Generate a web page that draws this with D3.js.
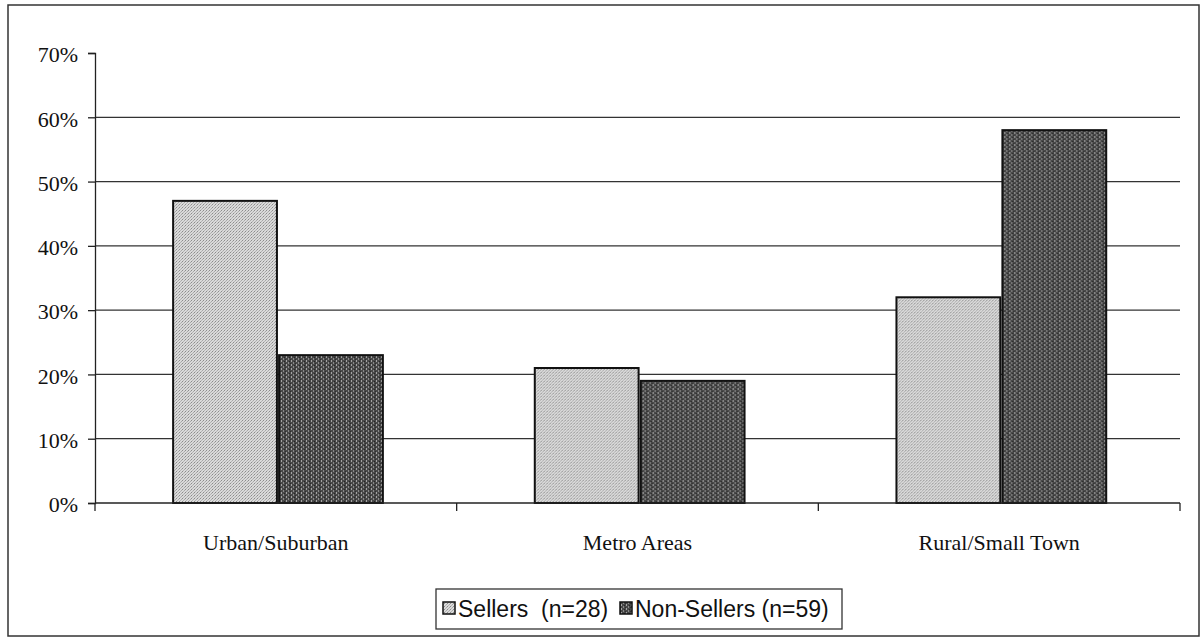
<!DOCTYPE html>
<html>
<head>
<meta charset="utf-8">
<script src="https://cdn.jsdelivr.net/npm/d3@7/dist/d3.min.js"></script>
<style>
  html, body { margin: 0; padding: 0; background: #fff; }
  svg { display: block; }
</style>
</head>
<body>
<svg id="chart" width="1201" height="639"></svg>
<script>
// Share of respondents by location type, sellers vs non-sellers
const categories = ["Urban/Suburban", "Metro Areas", "Rural/Small Town"];
const seriesNames = ["Sellers  (n=28)", "Non-Sellers (n=59)"];
const sellers = [47, 21, 32];
const nonSellers = [23, 19, 58];
const yTicks = [0, 10, 20, 30, 40, 50, 60, 70];

const svg = d3.select("#chart");
const plot = { left: 95, right: 1180, top: 53, bottom: 503 };

// Textured fills for the two series
const defs = svg.append("defs");
const light = defs.append("pattern").attr("id", "fillLight")
  .attr("patternUnits", "userSpaceOnUse").attr("width", 3).attr("height", 3);
light.append("rect").attr("width", 3).attr("height", 3).attr("fill", "#dadada");
light.append("rect").attr("x", 0).attr("y", 0).attr("width", 1).attr("height", 1).attr("fill", "#8c8c8c");
light.append("rect").attr("x", 2).attr("y", 1).attr("width", 1).attr("height", 1).attr("fill", "#a8a8a8");
light.append("rect").attr("x", 1).attr("y", 2).attr("width", 1).attr("height", 1).attr("fill", "#b4b4b4");

const dark = defs.append("pattern").attr("id", "fillDark")
  .attr("patternUnits", "userSpaceOnUse").attr("width", 5).attr("height", 4);
dark.append("rect").attr("width", 5).attr("height", 4).attr("fill", "#484848");
dark.append("rect").attr("x", 1).attr("y", 0).attr("width", 1).attr("height", 2).attr("fill", "#a4a4a4");
dark.append("rect").attr("x", 3).attr("y", 2).attr("width", 1).attr("height", 2).attr("fill", "#8a8a8a");
dark.append("rect").attr("x", 4).attr("y", 1).attr("width", 1).attr("height", 1).attr("fill", "#262626");
dark.append("rect").attr("x", 0).attr("y", 3).attr("width", 1).attr("height", 1).attr("fill", "#2e2e2e");

const fills = ["url(#fillLight)", "url(#fillDark)"];

// Outer frame
svg.append("rect")
  .attr("x", 8).attr("y", 5).attr("width", 1191).attr("height", 631)
  .attr("fill", "none").attr("stroke", "#333").attr("stroke-width", 1.5);

// Scales
const y = d3.scaleLinear().domain([0, 70]).range([plot.bottom, plot.top]);
const x0 = d3.scaleBand().domain(categories).range([plot.left, plot.right]).padding(0);
const bw = x0.bandwidth();
const x1 = d3.scaleBand().domain(seriesNames)
  .range([bw * 0.216, bw * 0.796]).paddingInner(0.02).paddingOuter(0);

// Horizontal gridlines
svg.append("g").selectAll("line")
  .data(yTicks.filter(t => t > 0 && t < 70))
  .join("line")
  .attr("x1", plot.left).attr("x2", plot.right)
  .attr("y1", d => y(d)).attr("y2", d => y(d))
  .attr("stroke", "#333").attr("stroke-width", 1.2);

// Bars
const rows = categories.map((c, i) => ({ cat: c, vals: [sellers[i], nonSellers[i]] }));
const groups = svg.append("g").selectAll("g")
  .data(rows).join("g")
  .attr("transform", d => `translate(${x0(d.cat)},0)`);
groups.selectAll("rect")
  .data(d => d.vals.map((v, k) => ({ name: seriesNames[k], v, k })))
  .join("rect")
  .attr("x", d => x1(d.name))
  .attr("width", x1.bandwidth())
  .attr("y", d => y(d.v))
  .attr("height", d => y(0) - y(d.v))
  .attr("fill", d => fills[d.k])
  .attr("stroke", "#111").attr("stroke-width", 2);

// Y axis
const yAxis = d3.axisLeft(y).tickValues(yTicks).tickSize(7).tickPadding(10)
  .tickFormat(d => d + "%");
const gy = svg.append("g").attr("transform", `translate(${plot.left},0)`).call(yAxis);
gy.select(".domain").attr("stroke", "#222").attr("stroke-width", 1.3);
gy.selectAll(".tick line").attr("stroke", "#222").attr("stroke-width", 1.3);
gy.selectAll(".tick text")
  .attr("font-family", "'Liberation Serif', 'Times New Roman', serif")
  .attr("font-size", 22).attr("fill", "#111").attr("dy", "0.4em");

// X axis with ticks at category boundaries
const gx = svg.append("g").attr("transform", `translate(0,${plot.bottom})`);
gx.append("line").attr("x1", plot.left).attr("x2", plot.right)
  .attr("stroke", "#222").attr("stroke-width", 1.3);
gx.selectAll("line.b")
  .data(categories.map(c => x0(c)).concat([plot.right]))
  .join("line").attr("class", "b")
  .attr("x1", d => d).attr("x2", d => d).attr("y1", 0).attr("y2", 8)
  .attr("stroke", "#222").attr("stroke-width", 1.3);
gx.selectAll("text")
  .data(categories).join("text")
  .attr("x", d => x0(d) + bw / 2).attr("y", 47)
  .attr("text-anchor", "middle")
  .attr("font-family", "'Liberation Serif', 'Times New Roman', serif")
  .attr("font-size", 22).attr("fill", "#111")
  .text(d => d);

// Legend
const lg = svg.append("g");
lg.append("rect").attr("x", 436).attr("y", 589).attr("width", 406).attr("height", 40)
  .attr("fill", "#fff").attr("stroke", "#333").attr("stroke-width", 1.3);
const items = [{ name: seriesNames[0], x: 443 }, { name: seriesNames[1], x: 620 }];
items.forEach((it, k) => {
  lg.append("rect").attr("x", it.x).attr("y", 602).attr("width", 12).attr("height", 12)
    .attr("fill", fills[k]).attr("stroke", "#111").attr("stroke-width", 1.5);
  lg.append("text").attr("x", it.x + 15).attr("y", 617)
    .attr("font-family", "'Liberation Sans', Arial, sans-serif")
    .attr("font-size", 23).attr("fill", "#111")
    .style("white-space", "pre")
    .text(it.name);
});
</script>
</body>
</html>
